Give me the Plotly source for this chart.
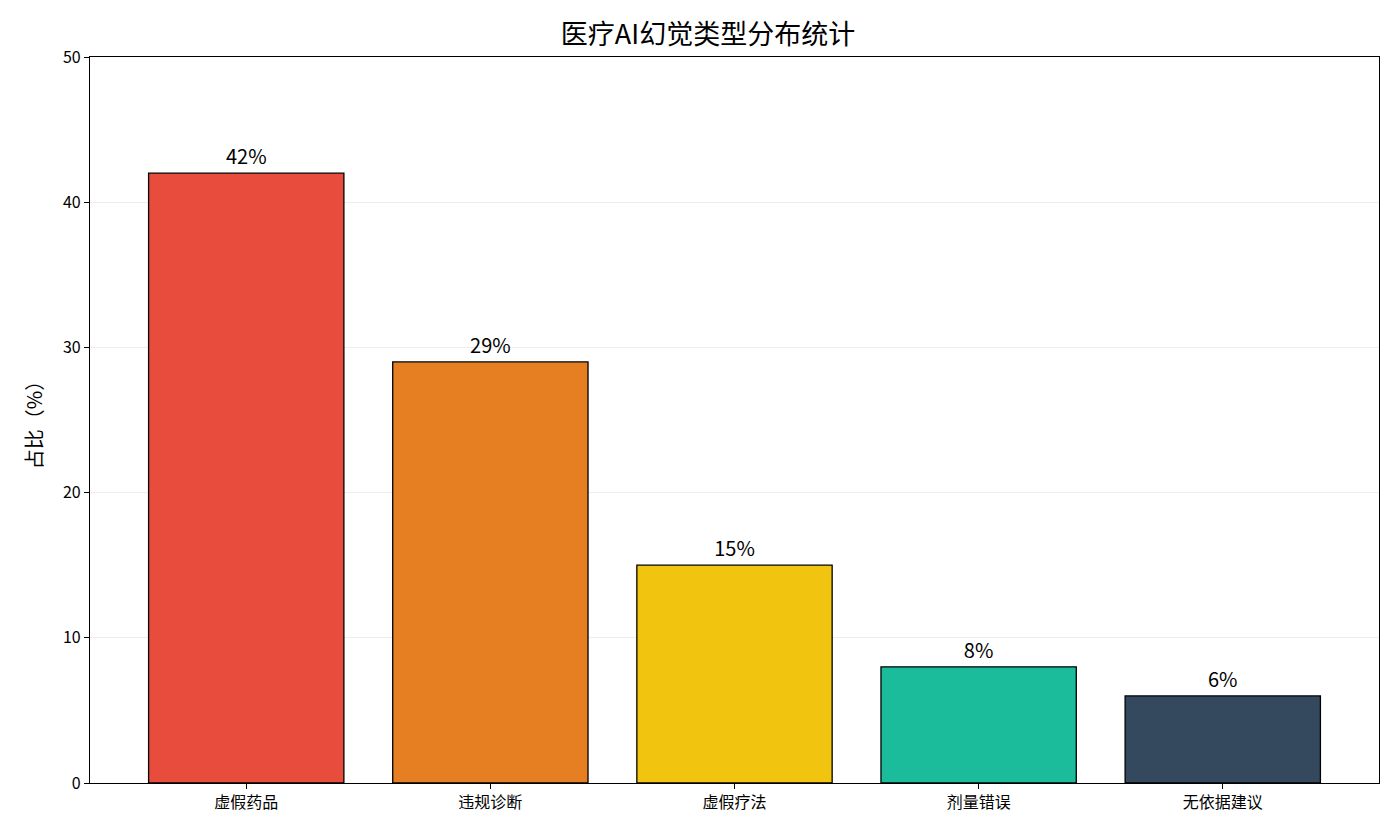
import plotly.graph_objects as go

##### data
categories = ['虚假药品', '违规诊断', '虚假疗法', '剂量错误', '无依据建议']
percentages = [42, 29, 15, 8, 6]
bar_colors = ['#e74c3c', '#e67e22', '#f1c40f', '#1abc9c', '#34495e']
y_ticks = [0, 10, 20, 30, 40, 50]

font_family = 'Noto Sans CJK SC, Noto Sans, DejaVu Sans'

fig = go.Figure()
fig.add_trace(go.Bar(
    x=list(range(len(categories))),
    y=percentages,
    width=0.8,
    marker=dict(color=bar_colors, line=dict(color='black', width=1.3)),
    text=[f'{v}%' for v in percentages],
    textposition='outside',
    textfont=dict(size=20, color='black', family=font_family),
    cliponaxis=False,
))

# page body has an 8px margin, so margins are shifted to line up
fig.update_layout(
    width=1400, height=840,
    paper_bgcolor='white', plot_bgcolor='white',
    margin=dict(l=82, r=29, t=49, b=65),
    showlegend=False,
    font=dict(family=font_family, color='black'),
    title=dict(text='医疗AI幻觉类型分布统计', x=0.5, xanchor='center',
               y=0.968, yanchor='middle', font=dict(size=27, color='black')),
)
fig.update_xaxes(
    range=[-0.64, 4.64],
    tickvals=list(range(len(categories))), ticktext=categories,
    tickfont=dict(size=16), ticks='outside', ticklen=5, tickcolor='black',
    showline=True, linecolor='black', linewidth=1.2, mirror=True,
    showgrid=False, zeroline=False,
)
fig.update_yaxes(
    range=[0, 50], tickvals=y_ticks,
    tickfont=dict(size=16), ticks='outside', ticklen=5, tickcolor='black',
    showline=True, linecolor='black', linewidth=1.2, mirror=True,
    showgrid=True, gridcolor='rgba(0,0,0,0.07)', gridwidth=1, zeroline=False,
    title=dict(text='占比（%）', font=dict(size=20), standoff=14),
)

fig.write_html('out.html')
